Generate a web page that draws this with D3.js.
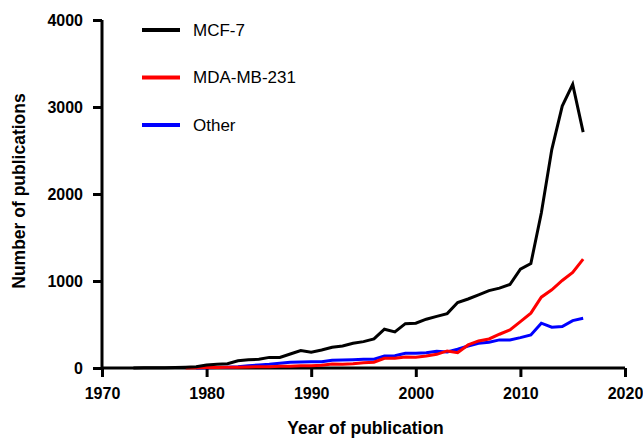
<!DOCTYPE html>
<html>
<head>
<meta charset="utf-8">
<script src="https://cdn.jsdelivr.net/npm/d3@7"></script>
<style>
  body { margin: 0; background: #fff; }
  svg { display: block; font-family: Arial, "Liberation Sans", sans-serif; }
</style>
</head>
<body>
<svg width="643" height="438"></svg>
<script>
// Publications per year
const mcf7Years = d3.range(1973, 2017);
const mcf7 = [0, 2, 2, 3, 6, 10, 15, 35, 42, 50, 84, 95, 100, 122, 122, 161, 200, 181, 207, 238,
  253, 284, 303, 334, 446, 415, 510, 515, 561, 593, 625, 752, 793, 841, 889, 918, 960, 1137,
  1200, 1782, 2511, 3010, 3260, 2711];

const mdaYears = d3.range(1978, 2017);
const mda = [0, 3, 5, 7, 8, 10, 12, 15, 15, 20, 20, 27, 25, 31, 46, 42, 50, 61, 66, 112, 112,
  127, 123, 138, 157, 196, 176, 265, 311, 334, 388, 438, 533, 630, 814, 899, 1006, 1098, 1252];

const otherYears = d3.range(1979, 2017);
const other = [0, 3, 5, 10, 15, 25, 35, 42, 54, 66, 69, 72, 73, 89, 92, 96, 100, 100, 138, 142,
  169, 169, 176, 192, 184, 215, 253, 284, 296, 323, 323, 349, 380, 515, 469, 476, 545, 572];

const seriesNames = ["MCF-7", "MDA-MB-231", "Other"];
const seriesColors = ["#000000", "#ff0000", "#0000ff"];
const xTicks = [1970, 1980, 1990, 2000, 2010, 2020];
const yTicks = [0, 1000, 2000, 3000, 4000];

const series = [
  { name: seriesNames[0], color: seriesColors[0], values: mcf7Years.map((y, i) => [y, mcf7[i]]) },
  { name: seriesNames[1], color: seriesColors[1], values: mdaYears.map((y, i) => [y, mda[i]]) },
  { name: seriesNames[2], color: seriesColors[2], values: otherYears.map((y, i) => [y, other[i]]) }
];

const svg = d3.select("svg");
const plotLeft = 102, plotRight = 625, plotTop = 20, plotBottom = 368;

const x = d3.scaleLinear().domain([1970, 2020]).range([plotLeft, plotRight]);
const y = d3.scaleLinear().domain([0, 4000]).range([plotBottom, plotTop]);

// Axes
const xAxis = svg.append("g")
  .attr("transform", `translate(0,${plotBottom})`)
  .call(d3.axisBottom(x).tickValues(xTicks).tickFormat(d3.format("d")).tickSize(9).tickPadding(11));

const yAxis = svg.append("g")
  .attr("transform", `translate(${plotLeft},0)`)
  .call(d3.axisLeft(y).tickValues(yTicks).tickFormat(d3.format("d")).tickSize(9).tickPadding(10));

[xAxis, yAxis].forEach(a => {
  a.select(".domain").attr("stroke", "#000").attr("stroke-width", 3);
  a.selectAll(".tick line").attr("stroke", "#000").attr("stroke-width", 3);
  a.selectAll(".tick text")
    .attr("fill", "#000")
    .attr("font-size", 16)
    .attr("font-weight", "bold")
    .attr("font-family", "Arial, 'Liberation Sans', sans-serif");
});
// remove the outer tick caps that d3 draws on the domain path
xAxis.select(".domain").attr("d", `M${plotLeft},0H${plotRight}`);
yAxis.select(".domain").attr("d", `M0,${plotBottom}V${plotTop}`);

// Axis titles
svg.append("text")
  .attr("x", (plotLeft + plotRight) / 2 + 2)
  .attr("y", 434)
  .attr("text-anchor", "middle")
  .attr("font-size", 17.5)
  .attr("font-weight", "bold")
  .text("Year of publication");

svg.append("text")
  .attr("transform", `translate(25,191) rotate(-90)`)
  .attr("text-anchor", "middle")
  .attr("font-size", 17.5)
  .attr("font-weight", "bold")
  .text("Number of publications");

// Lines (draw "Other" first so black stays on top)
const line = d3.line().x(d => x(d[0])).y(d => y(d[1]));

svg.append("g")
  .selectAll("path")
  .data(series.slice().reverse())
  .enter()
  .append("path")
  .attr("d", d => line(d.values))
  .attr("fill", "none")
  .attr("stroke", d => d.color)
  .attr("stroke-width", 3)
  .attr("stroke-linejoin", "miter");

// Legend
const legend = svg.append("g")
  .selectAll("g")
  .data(series)
  .enter()
  .append("g")
  .attr("transform", (d, i) => `translate(142,${30 + i * 47.5})`);

legend.append("line")
  .attr("x1", 0).attr("x2", 38)
  .attr("stroke", d => d.color)
  .attr("stroke-width", 4);

legend.append("text")
  .attr("x", 51)
  .attr("dy", "0.35em")
  .attr("font-size", 17)
  .text(d => d.name);
</script>
</body>
</html>
